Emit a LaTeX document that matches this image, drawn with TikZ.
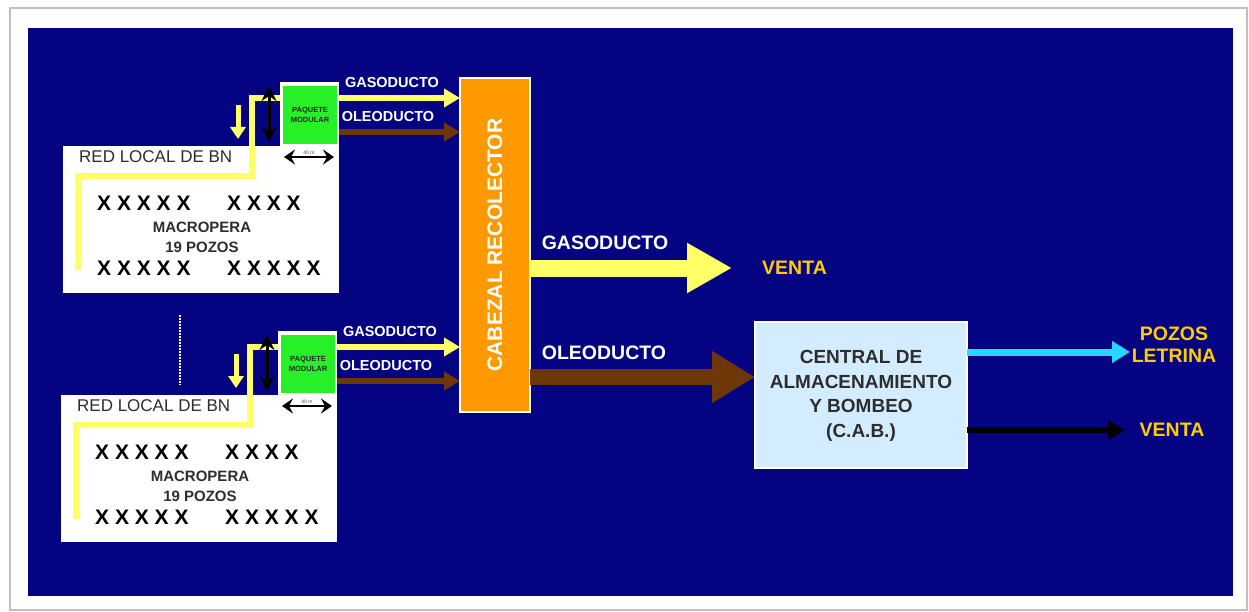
\documentclass[tikz,border=0pt]{standalone}
\usepackage{fontspec}
\setmainfont{Liberation Sans}
\usetikzlibrary{arrows.meta}
\definecolor{bgblue}{RGB}{4,4,130}
\definecolor{pipeyellow}{RGB}{255,255,102}
\definecolor{pipebrown}{RGB}{110,55,8}
\definecolor{pkggreen}{RGB}{40,240,40}
\definecolor{collorange}{RGB}{255,153,0}
\definecolor{cablue}{RGB}{212,236,255}
\definecolor{gold}{RGB}{255,204,0}
\definecolor{cyanpipe}{RGB}{40,215,255}
\definecolor{darktext}{RGB}{45,45,45}
\begin{document}
\begin{tikzpicture}[x=1pt,y=-1pt,
  boxnode/.style={rectangle,inner sep=0pt,outer sep=0pt,anchor=north west},
  whitebox/.style={boxnode,fill=white},
  pkgbox/.style={boxnode,fill=pkggreen,align=center,font=\fontsize{7.5}{8}\selectfont\bfseries,text=black!85},
  xrow/.style={anchor=west,inner sep=0pt,font=\fontsize{21}{21}\selectfont\bfseries,text=black},
  darklbl/.style={inner sep=0pt,text=darktext},
  whitelbl/.style={inner sep=0pt,text=white,font=\fontsize{14.5}{15}\selectfont\bfseries},
  biglbl/.style={inner sep=0pt,text=white,font=\fontsize{19.5}{20}\selectfont\bfseries},
  goldlbl/.style={inner sep=0pt,text=gold,font=\fontsize{19.5}{22}\selectfont\bfseries,align=center},
  smallgas/.style={draw=pipeyellow,line width=5.5pt,-{Triangle[length=16pt,width=18pt]}},
  smalloil/.style={draw=pipebrown,line width=5.5pt,-{Triangle[length=16pt,width=18pt]}},
  vdbl/.style={draw=black,line width=3pt,{Stealth[length=15pt,width=15pt,inset=5pt]}-{Stealth[length=15pt,width=15pt,inset=5pt]}},
  hdbl/.style={draw=black,line width=2.5pt,{Stealth[length=11pt,width=15pt,inset=4pt]}-{Stealth[length=11pt,width=15pt,inset=4pt]}},
]
\useasboundingbox (0,0) rectangle (1249,612);
\fill[white] (0,0) rectangle (1249,612);
\draw[black!25,line width=1.5pt] (10,8) rectangle (1247,610);
\fill[bgblue] (28,28) rectangle (1233,596);

% dotted separator
\coordinate (dotA) at (180,315);
\coordinate (dotB) at (180,385);
\draw[white,line width=1.5pt,dash pattern=on 1.5pt off 1.5pt] (dotA) -- (dotB);

% collector
\node[boxnode,fill=collorange,draw=white,line width=1.5pt,minimum width=70pt,minimum height=334pt] (coll) at (460,78) {};
\node[rotate=90,inner sep=0pt,text=white,font=\fontsize{21}{21}\selectfont\bfseries] (colltxt) at (coll.center) {CABEZAL RECOLECTOR};

\foreach \s/\dx/\dy in {t/0/0,b/-2/249}{
\begin{scope}[shift={(\dx,\dy)}]
  \node[whitebox,minimum width=276pt,minimum height=147pt] (box\s) at (63,146) {};
  \node[whitebox,minimum width=59pt,minimum height=65pt] (col\s) at (280,82) {};
  \node[pkgbox,minimum width=54pt,minimum height=58pt] (pkg\s) at (283,86) {PAQUETE\\[2pt]MODULAR};
  % yellow local network pipe
  \coordinate (pipeA\s) at (78,270);
  \draw[pipeyellow,line width=6pt] (pipeA\s) -- (78,176) -- (252,176) -- (252,98) -- (col\s.west |- 0,98);
  % small arrows
  \coordinate (dnA\s) at (238,105);
  \coordinate (dnB\s) at (238,139);
  \draw[pipeyellow,line width=5pt,-{Triangle[length=12pt,width=15pt]}] (dnA\s) -- (dnB\s);
  \coordinate (vA\s) at (269,86);
  \coordinate (vB\s) at (269,142);
  \draw[vdbl] (vA\s) -- (vB\s);
  \coordinate (hA\s) at (284,157);
  \coordinate (hB\s) at (334,157);
  \draw[hdbl] (hA\s) -- (hB\s);
  \node[inner sep=0pt,font=\fontsize{5}{5}\selectfont,text=black!70] (hl\s) at (309,152.5) {40 m};
  % texts
  \node[darklbl,anchor=west,font=\fontsize{17}{17}\selectfont] (red\s) at (79,157) {RED LOCAL DE BN};
  \node[xrow] (xa\s) at (97,203) {X X X X X};
  \node[xrow] (xb\s) at (227,203) {X X X X};
  \node[xrow] (xc\s) at (97,268) {X X X X X};
  \node[xrow] (xd\s) at (227,268) {X X X X X};
  \node[darklbl,font=\fontsize{15}{15}\selectfont\bfseries] (mac\s) at (202,227) {MACROPERA};
  \node[darklbl,font=\fontsize{15}{15}\selectfont\bfseries] (poz\s) at (202,247) {19 POZOS};
  % outgoing pipes to collector
  \draw[smallgas] (col\s.east |- 0,98) -- (coll.west |- 0,98);
  \draw[smalloil] (col\s.east |- 0,132) -- (coll.west |- 0,132);
  \node[whitelbl] (gl\s) at (392,83) {GASODUCTO};
  \node[whitelbl] (ol\s) at (388,117) {OLEODUCTO};
\end{scope}
}

% central de almacenamiento
\node[boxnode,fill=cablue,draw=white,line width=1.5pt,minimum width=212pt,minimum height=146pt] (cab) at (755,322) {};
\node[inner sep=0pt,text=darktext,align=center,font=\fontsize{19}{24.5}\selectfont\bfseries] (cabtxt) at ([yshift=-1pt]cab.center) {CENTRAL DE\\ALMACENAMIENTO\\Y BOMBEO\\(C.A.B.)};

% big gas arrow
\coordinate (gend) at (732,268);
\draw[pipeyellow,line width=17pt,-{Triangle[length=45pt,width=47pt]}] (coll.east |- gend) -- (gend);
\node[biglbl] (bgl) at (605,243) {GASODUCTO};
\node[goldlbl,anchor=west] (venta1) at (762,268) {VENTA};

% big oil arrow
\draw[pipebrown,line width=16pt,-{Triangle[length=43pt,width=49pt]}] (coll.east |- 0,377) -- (cab.west |- 0,377);
\node[biglbl] (bol) at (604,353) {OLEODUCTO};

% outputs of CAB
\coordinate (cyEnd) at (1130,352);
\draw[cyanpipe,line width=7pt,-{Triangle[length=18pt,width=21pt]}] (cab.east |- cyEnd) -- (cyEnd);
\node[goldlbl] (pozos) at (1174,345) {POZOS\\LETRINA};
\coordinate (bkEnd) at (1125,430);
\draw[black,line width=6pt,-{Triangle[length=17pt,width=19pt]}] (cab.east |- bkEnd) -- (bkEnd);
\node[goldlbl] (venta2) at (1172,430) {VENTA};
\end{tikzpicture}
\end{document}
